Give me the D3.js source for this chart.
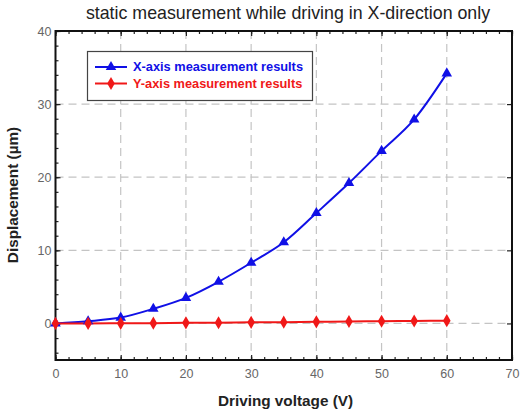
<!DOCTYPE html>
<html><head><meta charset="utf-8">
<script src="https://cdn.jsdelivr.net/npm/d3@7"></script>
<style>body{margin:0;background:#fff}svg{display:block}</style>
</head><body>
<svg id="c" width="521" height="417"></svg>
<script>
const voltages = [0,5,10,15,20,25,30,35,40,45,50,55,60];
const xAxisResults = [0,0.3,0.8,2.0,3.5,5.7,8.3,11.1,15.1,19.2,23.6,27.9,34.2];
const yAxisResults = [0,0,0.02,0.04,0.08,0.1,0.15,0.18,0.22,0.27,0.3,0.34,0.38];
const xTicks = [0,10,20,30,40,50,60,70];
const yTicks = [0,10,20,30,40];
const seriesNames = ["X-axis measurement results","Y-axis measurement results"];
const title = "static measurement while driving in X-direction only";
const xLabel = "Driving voltage (V)";
const yLabel = "Displacement (\u00b5m)";

const svg = d3.select("#c");
const L=55.5, R=512, T=31, B=360;
const x = d3.scaleLinear().domain([0,70]).range([L,R]);
const y = d3.scaleLinear().domain([-5,40]).range([B,T]);
const font = "Arial, 'Liberation Sans', sans-serif";

// grid
const g = svg.append("g");
g.selectAll(".gx").data(xTicks.filter(d=>d>0&&d<70)).enter().append("line")
  .attr("x1",d=>x(d)).attr("x2",d=>x(d)).attr("y1",T).attr("y2",B)
  .attr("stroke","#c4c4c4").attr("stroke-width",1.2).attr("stroke-dasharray","8,5");
g.selectAll(".gy").data(yTicks.filter(d=>d<40)).enter().append("line")
  .attr("y1",d=>y(d)).attr("y2",d=>y(d)).attr("x1",L).attr("x2",R)
  .attr("stroke","#c4c4c4").attr("stroke-width",1.2).attr("stroke-dasharray","8,5");

// axes with inward ticks
const minorX = d3.range(0,71,2);
const minorY = d3.range(-4,41,2);
function tickAxis(axisFn, scale, ticks, size, tr){
  return svg.append("g").attr("transform",tr)
    .call(axisFn(scale).tickValues(ticks).tickSize(size).tickFormat(""))
    .call(a=>a.select(".domain").remove())
    .call(a=>a.selectAll("line").attr("stroke","#222").attr("stroke-width",1.2));
}
tickAxis(d3.axisBottom, x, minorX, -3, `translate(0,${B})`);
tickAxis(d3.axisBottom, x, xTicks, -5, `translate(0,${B})`);
tickAxis(d3.axisTop, x, minorX, -3, `translate(0,${T})`);
tickAxis(d3.axisTop, x, xTicks, -5, `translate(0,${T})`);
tickAxis(d3.axisLeft, y, minorY, -3, `translate(${L},0)`);
tickAxis(d3.axisLeft, y, yTicks, -5, `translate(${L},0)`);
tickAxis(d3.axisRight, y, yTicks, -5, `translate(${R},0)`);

// tick labels
const xa = svg.append("g").attr("transform",`translate(0,${B})`)
  .call(d3.axisBottom(x).tickValues(xTicks).tickSize(0).tickPadding(9));
xa.select(".domain").remove();
xa.selectAll("text").attr("font-family",font).attr("font-size",12.5).attr("fill","#666");
const ya = svg.append("g").attr("transform",`translate(${L},0)`)
  .call(d3.axisLeft(y).tickValues(yTicks).tickSize(0).tickPadding(4));
ya.select(".domain").remove();
ya.selectAll("text").attr("font-family",font).attr("font-size",12.5).attr("fill","#666");

// frame
svg.append("rect").attr("x",L).attr("y",T).attr("width",R-L).attr("height",B-T)
  .attr("fill","none").attr("stroke","#111").attr("stroke-width",2);

// series
const colors = ["#1010e6","#f01818"];
const dataX = voltages.map((v,i)=>[v,xAxisResults[i]]);
const dataY = voltages.map((v,i)=>[v,yAxisResults[i]]);
const line = d3.line().x(d=>x(d[0])).y(d=>y(d[1])).curve(d3.curveMonotoneX);
svg.append("path").datum(dataX).attr("d",line).attr("fill","none").attr("stroke",colors[0]).attr("stroke-width",2);
svg.append("path").datum(dataY).attr("d",line).attr("fill","none").attr("stroke",colors[1]).attr("stroke-width",2);
const tri = d3.symbol().type(d3.symbolTriangle).size(48);
const dia = d3.symbol().type(d3.symbolDiamond).size(50);
svg.selectAll(".mx").data(dataX).enter().append("path").attr("d",tri)
  .attr("transform",d=>`translate(${x(d[0])},${y(d[1])})`).attr("fill",colors[0]);
svg.selectAll(".my").data(dataY).enter().append("path").attr("d",dia)
  .attr("transform",d=>`translate(${x(d[0])},${y(d[1])})`).attr("fill",colors[1]);

// legend
const lg = svg.append("g");
lg.append("rect").attr("x",87.5).attr("y",51.5).attr("width",225).attr("height",49)
  .attr("fill","#fff").attr("stroke","#444").attr("stroke-width",1.2);
[0,1].forEach(i=>{
  const yy = 67 + i*16.5;
  lg.append("line").attr("x1",95).attr("x2",127).attr("y1",yy).attr("y2",yy).attr("stroke",colors[i]).attr("stroke-width",2);
  lg.append("path").attr("d",i===0?tri:dia).attr("transform",`translate(111,${yy})`).attr("fill",colors[i]);
  lg.append("text").attr("x",133).attr("y",yy).attr("dy","0.35em").text(seriesNames[i])
    .attr("font-family",font).attr("font-weight","bold").attr("font-size",12.8).attr("fill",colors[i]);
});

// titles
svg.append("text").attr("x",288).attr("y",19).attr("text-anchor","middle").text(title)
  .attr("font-family",font).attr("font-size",17.8).attr("fill","#222");
svg.append("text").attr("x",285.5).attr("y",406).attr("text-anchor","middle").text(xLabel)
  .attr("font-family",font).attr("font-weight","bold").attr("font-size",15.3).attr("fill","#222");
svg.append("text").attr("transform","translate(18,195) rotate(-90)").attr("text-anchor","middle").text(yLabel)
  .attr("font-family",font).attr("font-weight","bold").attr("font-size",15.3).attr("fill","#222");
</script>
</body></html>
